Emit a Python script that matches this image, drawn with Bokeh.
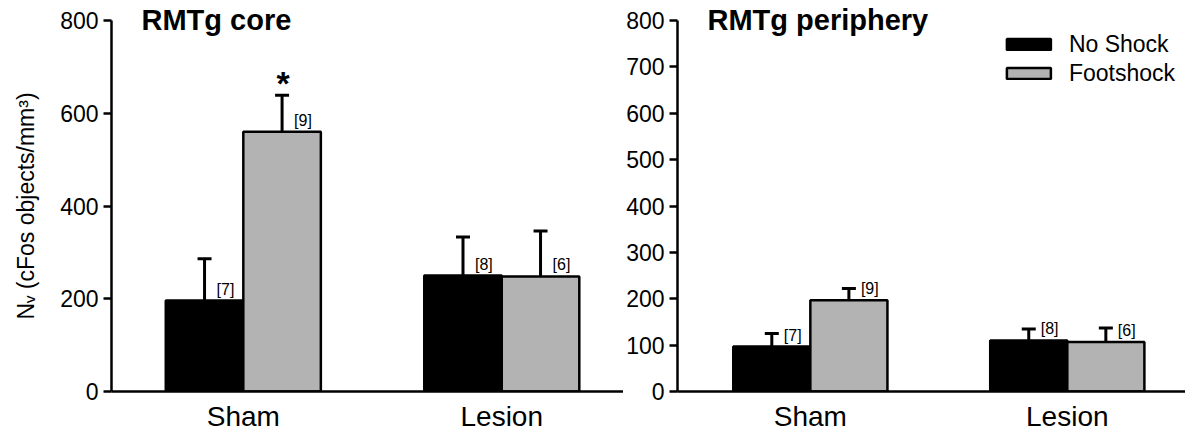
from bokeh.plotting import figure
from bokeh.layouts import row
from bokeh.models import (Range1d, FixedTicker, Whisker, TeeHead, ColumnDataSource)
from bokeh.core.properties import value
from bokeh.embed import file_html
from bokeh.resources import INLINE

# ---------------- data ----------------
groups = ["Sham", "Lesion"]
series_names = ["No Shock", "Footshock"]

core_noshock = [196, 250]
core_noshock_sem = [90, 83]
core_footshock = [560, 248]
core_footshock_sem = [79, 98]

peri_noshock = [97, 110]
peri_noshock_sem = [28, 25]
peri_footshock = [197, 107]
peri_footshock_sem = [25, 30]

n_noshock = ["[7]", "[8]"]
n_footshock = ["[9]", "[6]"]
core_sig_footshock = ["*", ""]

core_yticks = [0, 200, 400, 600, 800]
peri_yticks = [0, 100, 200, 300, 400, 500, 600, 700, 800]

titles = ["RMTg core", "RMTg periphery"]
ylabel = "N\u1d65 (cFos objects/mm\u00b3)"

FONT = "Liberation Sans"
BAR_W = 0.30
COLORS = ["#000000", "#b3b3b3"]


def make_panel(title, noshock, noshock_sem, footshock, footshock_sem, yticks,
               width, border_left, xr, sig=None, legend=False, ylab=None):
    p = figure(width=width, height=434, output_backend="svg", toolbar_location=None,
               x_range=Range1d(*xr), y_range=Range1d(0, 800),
               min_border_left=border_left, min_border_right=0,
               min_border_top=20, min_border_bottom=42, title=title)
    p.outline_line_color = None
    p.grid.visible = False
    p.background_fill_color = "white"
    p.border_fill_color = "white"

    p.title.text_font = FONT
    p.title.text_font_size = "29px"
    p.title.text_font_style = "bold"
    p.title.text_color = "black"
    p.title.align = "left"
    p.title.offset = 30
    p.title.standoff = -30

    xs = [i + 1 for i in range(len(groups))]
    vals = [noshock, footshock]
    sems = [noshock_sem, footshock_sem]
    ns = [n_noshock, n_footshock]
    for k in range(2):
        bx = [x + (k - 0.5) * BAR_W for x in xs]
        top = vals[k]
        err = [v + s for v, s in zip(vals[k], sems[k])]
        src = ColumnDataSource(dict(x=bx, top=top, err=err, n=ns[k]))
        kw = dict(legend_label=series_names[k]) if legend else {}
        p.vbar(x="x", top="top", width=BAR_W, source=src, fill_color=COLORS[k],
               line_color="black", line_width=2.5, **kw)
        w = Whisker(base="x", lower="top", upper="err", source=src, dimension="height",
                    line_color="black", line_width=3, lower_head=None,
                    upper_head=TeeHead(size=14, line_width=3, line_color="black"))
        p.add_layout(w)
        p.text(x="x", y="top", text="n", source=src, x_offset=12, y_offset=-3,
               text_baseline="bottom", text_align="left", text_font=value(FONT),
               text_font_size="16px", text_color="black")
        if sig is not None and k == 1:
            ssrc = ColumnDataSource(dict(x=bx, y=err, s=sig))
            p.text(x="x", y="y", text="s", source=ssrc, x_offset=1, y_offset=7,
                   text_baseline="bottom", text_align="center", text_font=value(FONT),
                   text_font_size="34px", text_font_style="bold", text_color="black")

    # axes
    p.xaxis.ticker = FixedTicker(ticks=xs)
    p.xaxis.major_label_overrides = {x: g for x, g in zip(xs, groups)}
    p.xaxis.major_tick_line_color = None
    p.xaxis.minor_tick_line_color = None
    p.xaxis.major_label_text_font = FONT
    p.xaxis.major_label_text_font_size = "28px"
    p.xaxis.major_label_text_color = "black"
    p.xaxis.major_label_standoff = 3
    p.xaxis.axis_line_width = 2.5
    p.xaxis.axis_line_color = "black"

    p.yaxis.ticker = FixedTicker(ticks=yticks)
    p.yaxis.minor_tick_line_color = None
    p.yaxis.major_tick_in = 0
    p.yaxis.major_tick_out = 8
    p.yaxis.major_tick_line_width = 2.5
    p.yaxis.major_tick_line_color = "black"
    p.yaxis.axis_line_width = 2.5
    p.yaxis.axis_line_color = "black"
    p.yaxis.major_label_text_font = FONT
    p.yaxis.major_label_text_font_size = "23px"
    p.yaxis.major_label_text_color = "black"
    p.yaxis.major_label_standoff = 5
    if ylab:
        p.yaxis.axis_label = ylab
        p.yaxis.axis_label_text_font = FONT
        p.yaxis.axis_label_text_font_size = "23px"
        p.yaxis.axis_label_text_font_style = "normal"
        p.yaxis.axis_label_text_color = "black"
        p.yaxis.axis_label_standoff = 18

    if legend:
        lg = p.legend[0]
        lg.location = "top_right"
        lg.border_line_color = None
        lg.background_fill_alpha = 0
        lg.glyph_width = 55
        lg.glyph_height = 14
        lg.label_text_font = FONT
        lg.label_text_font_size = "23px"
        lg.label_text_color = "black"
        lg.label_standoff = 13
        lg.label_height = 28
        lg.spacing = 1
        lg.padding = 0
        lg.margin = 10
    return p


p1 = make_panel(titles[0], core_noshock, core_noshock_sem, core_footshock,
                core_footshock_sem, core_yticks, width=623, border_left=111,
                xr=(0.490, 2.471), sig=core_sig_footshock, ylab=ylabel)
p2 = make_panel(titles[1], peri_noshock, peri_noshock_sem, peri_footshock,
                peri_footshock_sem, peri_yticks, width=562, border_left=50,
                xr=(0.483, 2.460), legend=True)

layout = row(p1, p2)
open("out.html", "w").write(file_html(layout, INLINE))
